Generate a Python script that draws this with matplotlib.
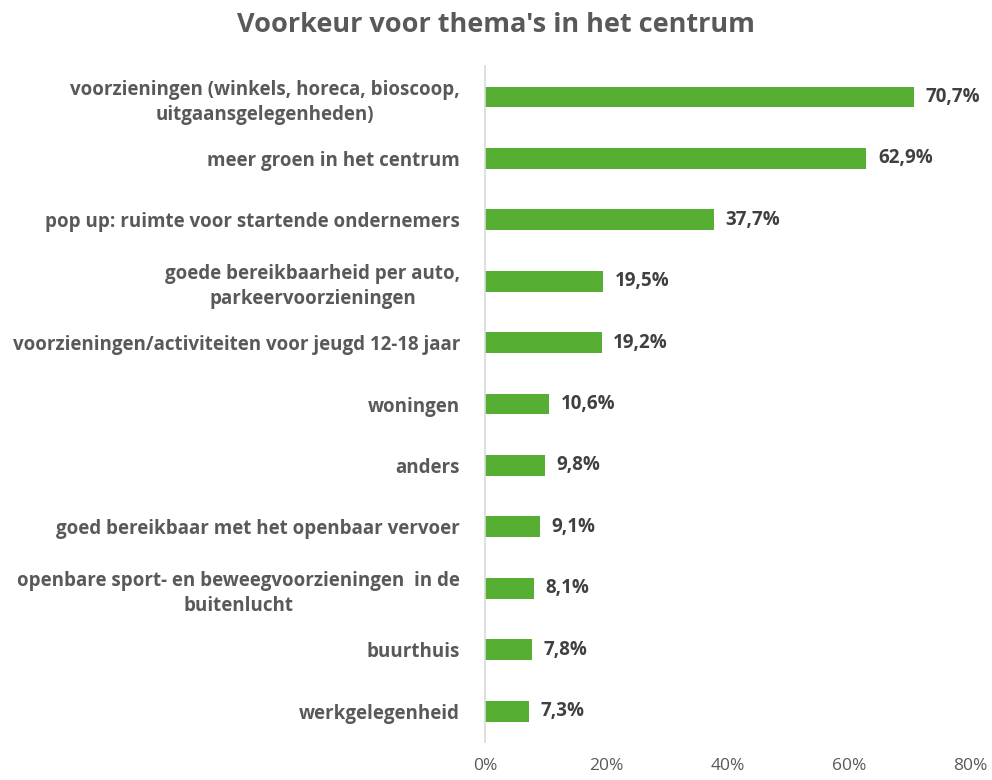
import numpy as np
import matplotlib.pyplot as plt
from matplotlib.ticker import FuncFormatter

# data (top to bottom as in the chart)
categories = [
    'voorzieningen (winkels, horeca, bioscoop,\nuitgaansgelegenheden)',
    'meer groen in het centrum',
    'pop up: ruimte voor startende ondernemers',
    'goede bereikbaarheid per auto,\nparkeervoorzieningen',
    'voorzieningen/activiteiten voor jeugd 12-18 jaar',
    'woningen',
    'anders',
    'goed bereikbaar met het openbaar vervoer',
    'openbare sport- en beweegvoorzieningen  in de\nbuitenlucht',
    'buurthuis',
    'werkgelegenheid',
]
values = [70.7, 62.9, 37.7, 19.5, 19.2, 10.6, 9.8, 9.1, 8.1, 7.8, 7.3]
xticks = [0, 20, 40, 60, 80]

plt.rcParams['font.family'] = ['Open Sans', 'DejaVu Sans']

fig = plt.figure(figsize=(9.92, 7.8), dpi=100)
ax = fig.add_axes([0.489, 0.049, 0.489, 0.866])

y = np.arange(len(categories))
ax.barh(y, values, height=0.34, color='#56ae33')
ax.set_ylim(len(categories) - 0.5, -0.5)
ax.set_xlim(0, 80)

for yi, v in zip(y, values):
    ax.text(v + 1.9, yi, ('%.1f%%' % v).replace('.', ','), va='center', ha='left',
            fontsize=13.5, fontweight='bold', color='#404040')

ax.set_yticks(y)
ax.set_yticklabels(categories, fontsize=13.5, fontweight='bold', color='#595959',
                   ha='right', multialignment='center', linespacing=1.35)
ax.tick_params(axis='y', length=0, pad=18)
ax.set_xticks(xticks)
ax.xaxis.set_major_formatter(FuncFormatter(lambda x, p: '%d%%' % x))
ax.tick_params(axis='x', length=0, labelsize=12.5, colors='#595959', pad=12)

for s in ['top', 'right', 'bottom']:
    ax.spines[s].set_visible(False)
ax.spines['left'].set_color('#d9d9d9')
ax.spines['left'].set_linewidth(1.2)

fig.suptitle("Voorkeur voor thema's in het centrum", fontsize=19.5, fontweight='bold',
             color='#595959', x=0.5, y=0.985)

fig.savefig('out.png', dpi=100)
